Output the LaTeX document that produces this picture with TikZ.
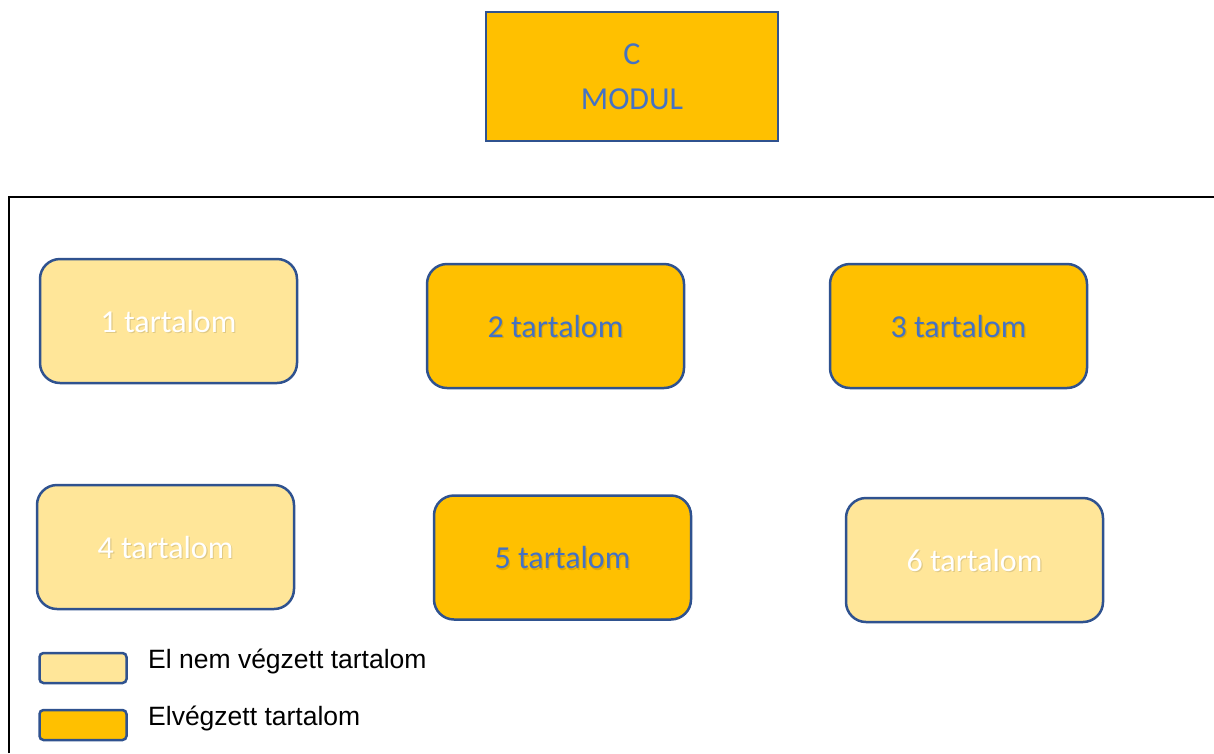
\documentclass[tikz,border=0pt]{standalone}
\usepackage{fontspec}
\setmainfont{Carlito}
\newfontfamily\legendfont{Liberation Sans}
\definecolor{bluetext}{HTML}{4472C4}
\definecolor{bordercol}{HTML}{2F528F}
\definecolor{darkfill}{HTML}{FFC000}
\definecolor{lightfill}{HTML}{FFE699}
\begin{document}
\begin{tikzpicture}[x=1pt,y=-1pt,
  modbox/.style={draw=bordercol,line width=2.5pt,fill=darkfill,minimum width=292pt,minimum height=129pt,inner sep=0pt,
    text=bluetext,align=center,font=\fontsize{32}{45}\selectfont},
  tbox/.style={draw=bordercol,line width=2.5pt,rounded corners=20pt,minimum width=257pt,minimum height=124pt,inner sep=0pt,
    font=\fontsize{32}{37}\selectfont},
  done/.style={tbox,fill=darkfill,text=bluetext},
  todo/.style={tbox,fill=lightfill,text=white},
  shadowtext/.style={inner sep=0pt,text=black,opacity=0.12,font=\fontsize{32}{37}\selectfont},
  labeltext/.style={inner sep=0pt,font=\fontsize{32}{37}\selectfont},
  legbox/.style={draw=bordercol,line width=2.5pt,rounded corners=4pt,minimum width=87pt,minimum height=30pt,inner sep=0pt},
  legtext/.style={anchor=west,inner sep=0pt,font=\legendfont\fontsize{26.5}{30}\selectfont,text=black}]
\useasboundingbox (0,0) rectangle (1214,753);
\draw[line width=2.5pt,black] (9,753) -- (9,197) -- (1214,197);
\node[modbox] (mod) at (632,76.5) {C\\MODUL};
\node[todo] (t1) at (168.5,321) {};
\node[done] (t2) at (555.5,326) {};
\node[done] (t3) at (958.5,326) {};
\node[todo] (t4) at (165.5,547) {};
\node[done] (t5) at (562.5,557.5) {};
\node[todo] (t6) at (974.5,560) {};
\foreach \n/\s in {t1/1,t2/2,t3/3,t4/4,t5/5,t6/6}{
  \node[shadowtext] (\n s) at ([shift={(1.2pt,-1.8pt)}]\n.center) {\s\ tartalom};
}
\node[labeltext,text=white] (t1l) at (t1.center) {1 tartalom};
\node[labeltext,text=bluetext] (t2l) at (t2.center) {2 tartalom};
\node[labeltext,text=bluetext] (t3l) at (t3.center) {3 tartalom};
\node[labeltext,text=white] (t4l) at (t4.center) {4 tartalom};
\node[labeltext,text=bluetext] (t5l) at (t5.center) {5 tartalom};
\node[labeltext,text=white] (t6l) at (t6.center) {6 tartalom};
\node[legbox,fill=lightfill] (l1) at (83,668) {};
\node[legbox,fill=darkfill] (l2) at (83,725) {};
\node[legtext] (l1t) at (148,661) {El nem végzett tartalom};
\node[legtext] (l2t) at (148,718) {Elvégzett tartalom};
\end{tikzpicture}
\end{document}
